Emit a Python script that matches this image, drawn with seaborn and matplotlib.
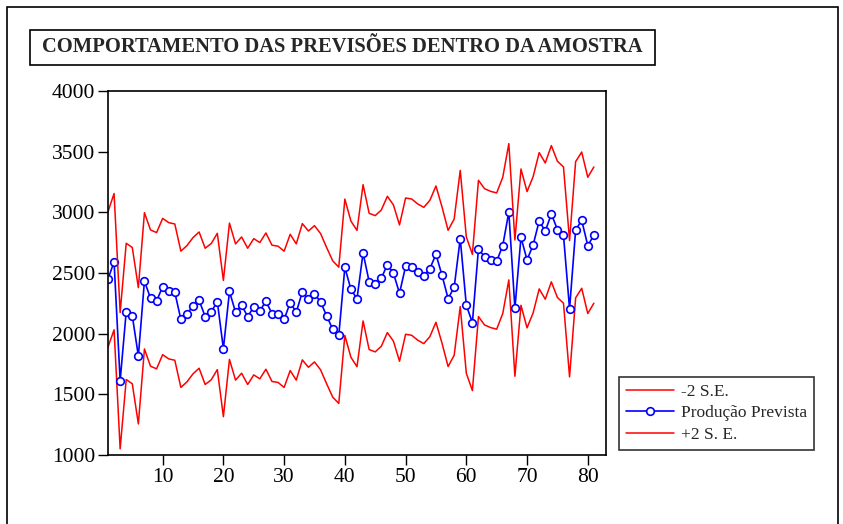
import matplotlib
matplotlib.use("Agg")
import matplotlib.pyplot as plt
from matplotlib.patches import Rectangle
import seaborn as sns
import pandas as pd
import numpy as np

# ---- data ----
obs = list(range(1, 82))
pred = [2450, 2592, 1611, 2182, 2147, 1816, 2434, 2292, 2270, 2387,
        2352, 2341, 2117, 2163, 2229, 2275, 2141, 2180, 2264, 1876,
        2348, 2177, 2234, 2141, 2220, 2188, 2267, 2166, 2158, 2117,
        2256, 2177, 2344, 2283, 2327, 2262, 2147, 2037, 1985, 2546,
        2365, 2288, 2665, 2429, 2410, 2456, 2569, 2498, 2333, 2555,
        2547, 2506, 2478, 2536, 2654, 2481, 2289, 2382, 2783, 2234,
        2091, 2701, 2632, 2610, 2597, 2726, 3003, 2209, 2794, 2608,
        2731, 2929, 2844, 2987, 2858, 2811, 2204, 2855, 2934, 2726,
        2811]
upper = [3005, 3155, 2174, 2745, 2710, 2379, 2997, 2855, 2833, 2950,
         2915, 2904, 2680, 2726, 2792, 2838, 2704, 2743, 2827, 2439,
         2911, 2740, 2797, 2704, 2783, 2751, 2830, 2729, 2721, 2680,
         2819, 2740, 2907, 2846, 2890, 2825, 2710, 2600, 2548, 3109,
         2928, 2851, 3228, 2992, 2973, 3019, 3132, 3061, 2896, 3118,
         3110, 3069, 3041, 3099, 3217, 3044, 2852, 2945, 3346, 2797,
         2654, 3264, 3195, 3173, 3160, 3289, 3566, 2772, 3357, 3171,
         3294, 3492, 3407, 3550, 3421, 3374, 2767, 3418, 3497, 3289,
         3374]
lower = [1890, 2032, 1051, 1622, 1587, 1256, 1874, 1732, 1710, 1827,
         1792, 1781, 1557, 1603, 1669, 1715, 1581, 1620, 1704, 1316,
         1788, 1617, 1674, 1581, 1660, 1628, 1707, 1606, 1598, 1557,
         1696, 1617, 1784, 1723, 1767, 1702, 1587, 1477, 1425, 1986,
         1805, 1728, 2105, 1869, 1850, 1896, 2009, 1938, 1773, 1995,
         1987, 1946, 1918, 1976, 2094, 1921, 1729, 1822, 2223, 1674,
         1531, 2141, 2072, 2050, 2037, 2166, 2443, 1649, 2234, 2048,
         2171, 2369, 2284, 2427, 2298, 2251, 1644, 2295, 2374, 2166,
         2251]
labels = ["-2 S.E.", "Produção Prevista", "+2 S. E."]
title = "COMPORTAMENTO DAS PREVISÕES DENTRO DA AMOSTRA"
xticks = [10, 20, 30, 40, 50, 60, 70, 80]
yticks = [1000, 1500, 2000, 2500, 3000, 3500, 4000]

df = pd.DataFrame({"obs": obs, "pred": pred, "upper": upper, "lower": lower})

sns.set_theme(style="ticks")
plt.rcParams["font.family"] = ["Liberation Serif", "DejaVu Serif"]

W, H = 843, 524
fig = plt.figure(figsize=(W / 100, H / 100), dpi=100)
fig.patch.set_facecolor("white")

L, R, T, B = 108, 606, 91, 455
ax = fig.add_axes([L / W, 1 - B / H, (R - L) / W, (B - T) / H])

sns.lineplot(data=df, x="obs", y="lower", ax=ax, color="#ff0000", lw=1.1, label=labels[0])
sns.lineplot(data=df, x="obs", y="pred", ax=ax, color="#0000ff", lw=1.2,
             marker="o", markersize=5.5, markerfacecolor="white",
             markeredgecolor="#0000ff", markeredgewidth=1.2, label=labels[1])
sns.lineplot(data=df, x="obs", y="upper", ax=ax, color="#ff0000", lw=1.1, label=labels[2])

ax.set_xlim(1, 83)
ax.set_ylim(1000, 4000)
ax.set_xticks(xticks)
ax.set_yticks(yticks)
ax.set_xlabel("")
ax.set_ylabel("")
ax.tick_params(direction="out", length=7, width=1, labelsize=15.5, colors="black", pad=2)
for s in ax.spines.values():
    s.set_visible(True)
    s.set_linewidth(1.2)
    s.set_color("black")

handles, labs = ax.get_legend_handles_labels()
ax.get_legend().remove()
leg = fig.legend(handles, labs, loc="upper left",
                 bbox_to_anchor=(619 / W, 1 - 377 / H), borderaxespad=0,
                 frameon=True, fancybox=False, edgecolor="black",
                 fontsize=12.5, handlelength=2.75, borderpad=0.4,
                 labelspacing=0.3, handletextpad=0.4)
leg.get_frame().set_linewidth(1.2)

# outer frame
fig.patches.append(Rectangle((7 / W, -0.05), (838 - 7) / W, 1.05 - 7 / H,
                             transform=fig.transFigure, fill=False,
                             edgecolor="black", lw=1.2))
# title box
fig.patches.append(Rectangle((30 / W, 1 - 65 / H), (655 - 30) / W, 35 / H,
                             transform=fig.transFigure, fill=False,
                             edgecolor="black", lw=1.2))
fig.text(342 / W, 1 - 47.5 / H, title, ha="center", va="center",
         fontsize=14.8, fontweight="bold")

fig.savefig("out.png", dpi=100)
